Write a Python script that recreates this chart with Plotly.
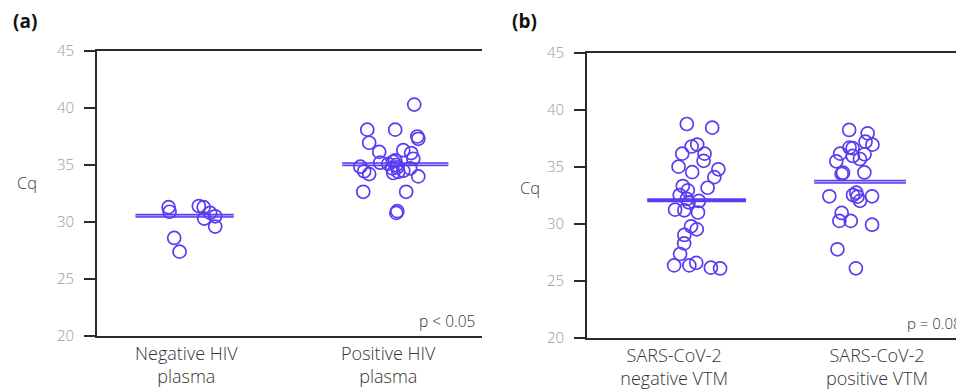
import plotly.graph_objects as go

# ---------------- data ----------------
a_categories = ["Negative HIV<br>plasma", "Positive HIV<br>plasma"]
b_categories = ["SARS-CoV-2<br>negative VTM", "SARS-CoV-2<br>positive VTM"]
y_ticks = [20, 25, 30, 35, 40, 45]

a_neg_cq = [31.3, 30.9, 28.6, 27.4, 31.4, 31.3, 30.3, 30.8, 30.5, 29.6]
a_neg_jit = [-0.128, -0.123, -0.099, -0.071, 0.029, 0.054, 0.057, 0.088, 0.114, 0.114]

a_pos_cq = [40.3, 38.1, 38.1, 36.95, 37.5, 37.3, 36.15, 36.3, 36.05, 35.55,
            35.2, 34.85, 34.45, 34.2, 32.65, 32.65, 34.0, 30.95, 30.8, 35.3,
            35.4, 35.0, 34.7, 34.3, 34.4, 34.5, 34.8, 34.7, 35.1]
a_pos_jit = [0.148, -0.096, 0.049, -0.086, 0.164, 0.169, -0.034, 0.091, 0.132, 0.143,
             -0.029, -0.132, -0.112, -0.086, -0.117, 0.106, 0.169, 0.060, 0.055, 0.039,
             0.049, 0.055, 0.034, 0.039, 0.065, 0.091, 0.060, 0.127, 0.013]

b_neg_cq = [38.77, 38.45, 36.8, 36.97, 36.17, 36.17, 35.54, 35.03, 34.55, 34.8,
            34.11, 33.18, 33.33, 32.95, 32.54, 32.2, 31.9, 32.02, 31.26, 31.2,
            31.01, 29.8, 29.53, 29.04, 28.3, 27.37, 26.37, 26.37, 26.59, 26.17, 26.1]
b_neg_jit = [0.019, 0.151, 0.044, 0.073, -0.005, 0.111, 0.106, -0.024, 0.047, 0.183,
             0.162, 0.127, -0.002, 0.024, -0.018, 0.019, 0.028, 0.082, -0.042, 0.006,
             0.077, 0.041, 0.071, 0.006, 0.005, -0.016, -0.047, 0.032, 0.068, 0.144, 0.192]

b_pos_cq = [38.25, 37.95, 37.22, 36.96, 36.7, 36.65, 36.17, 36.12, 35.97, 35.7,
            35.5, 34.5, 34.4, 34.52, 32.43, 32.54, 32.75, 32.4, 32.03, 32.43,
            30.97, 30.27, 30.27, 29.94, 27.78, 26.11]
b_pos_jit = [-0.137, -0.041, -0.052, -0.016, -0.135, -0.119, -0.184, -0.057, -0.118, -0.081,
             -0.204, -0.169, -0.176, -0.058, -0.240, -0.117, -0.100, -0.094, -0.081, -0.018,
             -0.176, -0.188, -0.129, -0.018, -0.198, -0.102]

a_center_lines = [30.55, 35.06]
b_center_lines = [32.08, 33.71]

a_pvalue = "p < 0.05"
b_pvalue = "p = 0.08"

# ---------------- styles ----------------
COLOR = "#5b3cf0"
LIGHT = "#b3a6fa"
AXIS = "#2b2b2b"
FONT = "Open Sans"
PAGE_OFF = 8                 # default body margin of the html page
W, H = 964 - PAGE_OFF, 389 - PAGE_OFF
# horizontal extent of centre lines relative to category centre (axis units)
A_SPANS = [(-0.30, 0.21), (-0.226, 0.325)]
B_SPANS = [(-0.187, 0.327), (-0.319, 0.158)]
# label anchor positions (axis units) as laid out in the original
A_LABEL_POS = [-0.036, 1.013]
B_LABEL_POS = [-0.047, 1.008]


def px(x):
    return (x - PAGE_OFF) / W


def py(y):
    return 1 - (y - PAGE_OFF) / H


fig = go.Figure()


def add_points(xaxis, yaxis, idx, cq, jit):
    fig.add_trace(go.Scatter(
        x=[idx + j for j in jit], y=cq, mode="markers",
        xaxis=xaxis, yaxis=yaxis, showlegend=False, hoverinfo="y",
        marker=dict(symbol="circle-open", size=13, color=COLOR,
                    line=dict(width=1.7, color=COLOR)),
    ))


def add_line(xaxis, yaxis, idx, val, span, hollow):
    xs = [idx + span[0], idx + span[1]]
    fig.add_trace(go.Scatter(x=xs, y=[val, val], mode="lines", xaxis=xaxis, yaxis=yaxis,
                             showlegend=False, hoverinfo="skip",
                             line=dict(color=COLOR, width=4)))
    if hollow:
        fig.add_trace(go.Scatter(x=xs, y=[val, val], mode="lines", xaxis=xaxis, yaxis=yaxis,
                                 showlegend=False, hoverinfo="skip",
                                 line=dict(color=LIGHT, width=1.2)))


add_line("x", "y", 0, a_center_lines[0], A_SPANS[0], True)
add_line("x", "y", 1, a_center_lines[1], A_SPANS[1], True)
add_points("x", "y", 0, a_neg_cq, a_neg_jit)
add_points("x", "y", 1, a_pos_cq, a_pos_jit)

add_line("x2", "y2", 0, b_center_lines[0], B_SPANS[0], False)
add_line("x2", "y2", 1, b_center_lines[1], B_SPANS[1], True)
add_points("x2", "y2", 0, b_neg_cq, b_neg_jit)
add_points("x2", "y2", 1, b_pos_cq, b_pos_jit)

a_dom_x = [px(97), px(482)]
b_dom_x = [px(587), 1.0]
a_dom_y = [py(336), py(51)]
b_dom_y = [py(338), py(53)]

xcommon = dict(tickmode="array", showgrid=False, zeroline=False,
               showline=True, linecolor=AXIS, linewidth=2, mirror=True, automargin=False,
               ticks="", tickfont=dict(family=FONT, size=18, color="#333333", weight=300))
ycommon = dict(range=[20, 45], tickvals=y_ticks, showgrid=False, zeroline=False,
               showline=True, linecolor=AXIS, linewidth=2, automargin=False,
               ticks="outside", ticklen=11, tickwidth=2, tickcolor=AXIS, ticklabelstandoff=7,
               tickfont=dict(family=FONT, size=15, color="#999999", weight=300))

fig.update_layout(
    width=W, height=H, margin=dict(l=0, r=0, t=0, b=0, autoexpand=False),
    paper_bgcolor="white", plot_bgcolor="white",
    xaxis=dict(domain=a_dom_x, range=[-0.5, 1.5], tickvals=A_LABEL_POS, ticktext=a_categories,
               anchor="y", **xcommon),
    yaxis=dict(domain=a_dom_y, anchor="x", mirror=False, **ycommon),
    xaxis2=dict(domain=b_dom_x, range=[-0.5, 1.46], tickvals=B_LABEL_POS, ticktext=b_categories,
                anchor="y2", **xcommon),
    yaxis2=dict(domain=b_dom_y, anchor="x2", mirror=False, **ycommon),
    # category boundary ticks (inside, pointing up)
    xaxis3=dict(domain=a_dom_x, range=[-0.5, 1.5], overlaying="x", anchor="y", tickvals=[0.5],
                ticks="inside", ticklen=20, tickwidth=2, tickcolor=AXIS, showticklabels=False,
                showgrid=False, zeroline=False, side="bottom", automargin=False),
    xaxis4=dict(domain=b_dom_x, range=[-0.5, 1.46], overlaying="x2", anchor="y2", tickvals=[0.5],
                ticks="inside", ticklen=20, tickwidth=2, tickcolor=AXIS, showticklabels=False,
                showgrid=False, zeroline=False, side="bottom", automargin=False),
    # right-side inside ticks
    yaxis3=dict(domain=a_dom_y, range=[20, 45], overlaying="y", anchor="x", side="right",
                tickvals=y_ticks, ticks="inside", ticklen=12, tickwidth=2, tickcolor=AXIS,
                showticklabels=False, showgrid=False, zeroline=False, showline=True,
                linecolor=AXIS, linewidth=2, automargin=False),
    yaxis4=dict(domain=b_dom_y, range=[20, 45], overlaying="y2", anchor="x2", side="right",
                tickvals=y_ticks, ticks="inside", ticklen=4, tickwidth=2, tickcolor=AXIS,
                showticklabels=False, showgrid=False, zeroline=False, automargin=False),
)

ann = [
    dict(text="<b>(a)</b>", x=px(11), y=py(21), xanchor="left", yanchor="middle",
         font=dict(family=FONT, size=19, color="#111")),
    dict(text="<b>(b)</b>", x=px(510), y=py(21), xanchor="left", yanchor="middle",
         font=dict(family=FONT, size=19, color="#111")),
    dict(text="Cq", x=px(39), y=py(182), xanchor="right", yanchor="middle",
         font=dict(family=FONT, size=16.5, color="#444", weight=300)),
    dict(text="Cq", x=px(542), y=py(187), xanchor="right", yanchor="middle",
         font=dict(family=FONT, size=16.5, color="#444", weight=300)),
    dict(text=a_pvalue, x=px(477), y=py(321), xanchor="right", yanchor="middle",
         font=dict(family=FONT, size=15.5, color="#333", weight=300)),
    dict(text=b_pvalue, x=px(905), y=py(323), xanchor="left", yanchor="middle",
         font=dict(family=FONT, size=15, color="#333", weight=300)),
]
for a in ann:
    a.update(xref="paper", yref="paper", showarrow=False)
fig.update_layout(annotations=ann)

fig.write_html("out.html")
